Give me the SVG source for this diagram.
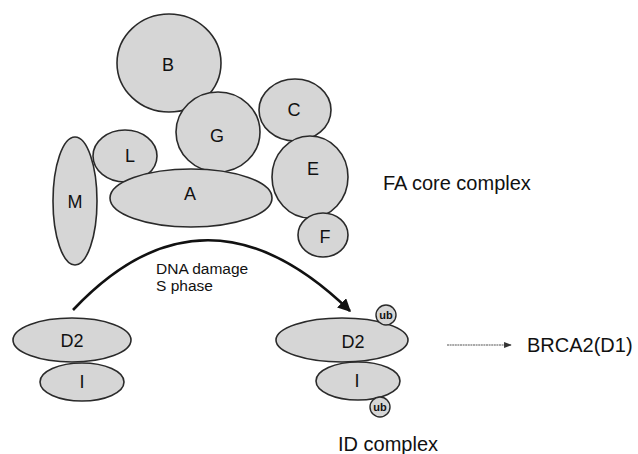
<svg xmlns="http://www.w3.org/2000/svg" width="638" height="454" viewBox="0 0 638 454">
<defs>
<marker id="ah" viewBox="0 0 10 10" refX="9" refY="5" markerWidth="5" markerHeight="5" orient="auto" markerUnits="strokeWidth">
<path d="M0,0 L10,5 L0,10 z" fill="#111"/>
</marker>
<marker id="ah2" viewBox="0 0 10 10" refX="9" refY="5" markerWidth="7" markerHeight="7" orient="auto" markerUnits="strokeWidth">
<path d="M0,1 L10,5 L0,9 z" fill="#333"/>
</marker>
</defs>
<style>
.n{fill:#d6d6d6;stroke:#2a2a2a;stroke-width:1.6}
.t{font-family:"Liberation Sans",Arial,sans-serif;fill:#111;text-anchor:middle;dominant-baseline:central}
.lbl{font-size:18px}
.ub{fill:#d6d6d6;stroke:#2a2a2a;stroke-width:1.4}
.ubt{font-size:11px;font-weight:bold}
.cap{font-family:"Liberation Sans",Arial,sans-serif;fill:#111;font-size:20px}
.sm{font-family:"Liberation Sans",Arial,sans-serif;fill:#111;font-size:15.5px}
</style>
<rect width="638" height="454" fill="#fff"/>
<g id="node-B"><ellipse class="n" cx="169" cy="63" rx="52" ry="49"/><text class="t lbl" x="168" y="65">B</text></g>
<g id="node-G"><ellipse class="n" cx="218" cy="132" rx="42" ry="40"/><text class="t lbl" x="217" y="136">G</text></g>
<g id="node-C"><ellipse class="n" cx="295" cy="110" rx="36" ry="31"/><text class="t lbl" x="294" y="110">C</text></g>
<g id="node-E"><ellipse class="n" cx="310" cy="177" rx="38" ry="41"/><text class="t lbl" x="313" y="169">E</text></g>
<g id="node-F"><ellipse class="n" cx="323" cy="235" rx="25" ry="22"/><text class="t lbl" x="325" y="237">F</text></g>
<g id="node-L"><ellipse class="n" cx="125" cy="156" rx="32" ry="26"/><text class="t lbl" x="130" y="156">L</text></g>
<g id="node-A"><ellipse class="n" cx="191" cy="198" rx="81" ry="29"/><text class="t lbl" x="190" y="194">A</text></g>
<g id="node-M"><ellipse class="n" cx="75" cy="201" rx="22" ry="64"/><text class="t lbl" x="75" y="202">M</text></g>
<text id="label-fa" class="cap" x="383" y="190">FA core complex</text>
<g id="connectors">
<path d="M73,310 Q205,170 350,311" fill="none" stroke="#111" stroke-width="2.6" marker-end="url(#ah)"/>
<line x1="447" y1="345" x2="511" y2="345" stroke="#555" stroke-width="1.1" stroke-dasharray="2 0.6" marker-end="url(#ah2)"/>
</g>
<text id="label-dna" class="sm" x="156" y="274">DNA damage</text>
<text id="label-s" class="sm" x="156" y="291">S phase</text>
<g id="node-D2-left"><ellipse class="n" cx="72" cy="340" rx="59" ry="22"/><text class="t lbl" x="72" y="341">D2</text></g>
<g id="node-I-left"><ellipse class="n" cx="82" cy="382" rx="42" ry="19"/><text class="t lbl" x="82" y="382">I</text></g>
<g id="node-D2-right"><ellipse class="n" cx="342" cy="340" rx="66" ry="22"/><text class="t lbl" x="353" y="342">D2</text></g>
<g id="node-I-right"><ellipse class="n" cx="358" cy="381" rx="42" ry="19"/><text class="t lbl" x="357" y="381">I</text></g>
<g id="node-ub-top"><circle class="ub" cx="386" cy="315" r="10"/><text class="t ubt" x="386" y="315">ub</text></g>
<g id="node-ub-bottom"><circle class="ub" cx="380" cy="407" r="10"/><text class="t ubt" x="380" y="407">ub</text></g>
<text id="label-brca2" class="cap" x="527" y="352">BRCA2(D1)</text>
<text id="label-id" class="cap" x="338" y="451">ID complex</text>
</svg>
